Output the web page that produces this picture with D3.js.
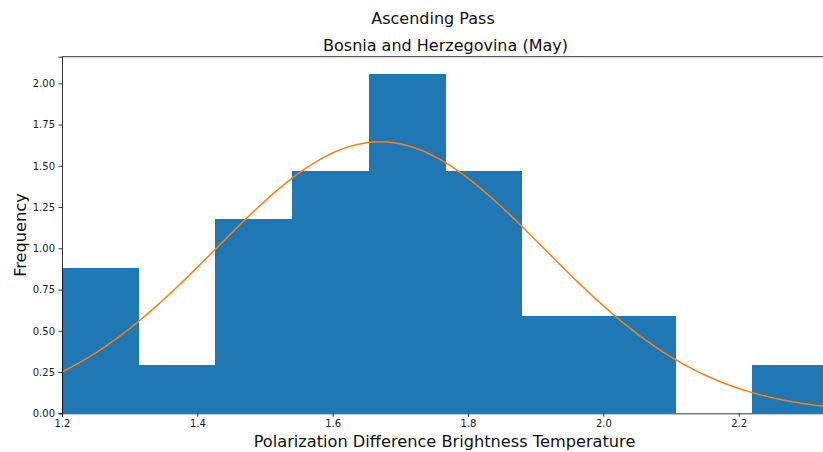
<!DOCTYPE html>
<html>
<head>
<meta charset="utf-8">
<script src="https://cdn.jsdelivr.net/npm/d3@7/dist/d3.min.js"></script>
<style>
  html, body { margin: 0; padding: 0; background: #fff; }
  svg { display: block; font-family: "DejaVu Sans", sans-serif; }
</style>
</head>
<body>
<svg id="chart" width="823" height="452"></svg>
<script>
// Histogram of polarization difference brightness temperature (density-normalised)
const binStart = 1.2;
const binWidth = 0.11335;
const binCounts = [3, 1, 4, 5, 7, 5, 2, 2, 0, 1];

// Fitted normal distribution drawn over the histogram
const fitMean = 1.670;
const fitStd = 0.2425;

const xTicks = [1.2, 1.4, 1.6, 1.8, 2.0, 2.2];
const yTicks = [0, 0.25, 0.5, 0.75, 1.0, 1.25, 1.5, 1.75, 2.0];

const suptitle = "Ascending Pass";
const title = "Bosnia and Herzegovina (May)";
const xLabel = "Polarization Difference Brightness Temperature";
const yLabel = "Frequency";

const total = d3.sum(binCounts);
const bins = binCounts.map((c, i) => ({
  x0: binStart + i * binWidth,
  x1: binStart + (i + 1) * binWidth,
  density: c / (total * binWidth)
}));
const xMax = binStart + binCounts.length * binWidth;
const yMax = d3.max(bins, d => d.density) * 1.05;

const svg = d3.select("#chart");
const margin = { left: 62, top: 56.7, bottom: 413.3 };
const x = d3.scaleLinear().domain([binStart, xMax]).range([margin.left, margin.left + (xMax - binStart) * 676.7]);
const y = d3.scaleLinear().domain([0, yMax]).range([margin.bottom, margin.top]);

// bars
svg.append("g").selectAll("rect").data(bins).join("rect")
  .attr("x", d => x(d.x0))
  .attr("width", d => x(d.x1) - x(d.x0))
  .attr("y", d => y(d.density))
  .attr("height", d => y(0) - y(d.density))
  .attr("fill", "#1f77b4")
  .attr("shape-rendering", "crispEdges");

// fitted density curve
const pdf = v => Math.exp(-0.5 * ((v - fitMean) / fitStd) ** 2) / (fitStd * Math.sqrt(2 * Math.PI));
const curveX = d3.range(0, 301).map(i => binStart + (xMax - binStart) * i / 300);
svg.append("path")
  .datum(curveX)
  .attr("fill", "none")
  .attr("stroke", "#ff7f0e")
  .attr("stroke-width", 1.5)
  .attr("d", d3.line().x(v => x(v)).y(v => y(pdf(v))));

// axes
const xAxis = d3.axisBottom(x).tickValues(xTicks).tickFormat(d3.format(".1f")).tickSize(3.5).tickPadding(3.5);
const yAxis = d3.axisLeft(y).tickValues(yTicks).tickFormat(d3.format(".2f")).tickSize(3.5).tickPadding(3.5);

const gx = svg.append("g").attr("transform", `translate(0,${margin.bottom})`).call(xAxis);
const gy = svg.append("g").attr("transform", `translate(${margin.left},0)`).call(yAxis);
[gx, gy].forEach(g => {
  g.select(".domain").attr("stroke", "#000").attr("stroke-width", 0.8);
  g.selectAll(".tick line").attr("stroke", "#000").attr("stroke-width", 0.8);
  g.selectAll(".tick text").attr("fill", "#222").style("font-size", "10px").style("font-family", "DejaVu Sans");
});

// top spine
svg.append("line")
  .attr("x1", margin.left).attr("x2", x(xMax))
  .attr("y1", margin.top).attr("y2", margin.top)
  .attr("stroke", "#000").attr("stroke-width", 0.8);

// titles and labels
svg.append("text").attr("x", 433).attr("y", 24).attr("text-anchor", "middle")
  .style("font-size", "16px").attr("fill", "#111").text(suptitle);
svg.append("text").attr("x", 445.5).attr("y", 51).attr("text-anchor", "middle")
  .style("font-size", "16px").attr("fill", "#111").text(title);
svg.append("text").attr("x", 444.5).attr("y", 447).attr("text-anchor", "middle")
  .style("font-size", "16.2px").attr("fill", "#111").text(xLabel);
svg.append("text").attr("transform", "translate(26,235) rotate(-90)").attr("text-anchor", "middle")
  .style("font-size", "16.2px").attr("fill", "#111").text(yLabel);
</script>
</body>
</html>
